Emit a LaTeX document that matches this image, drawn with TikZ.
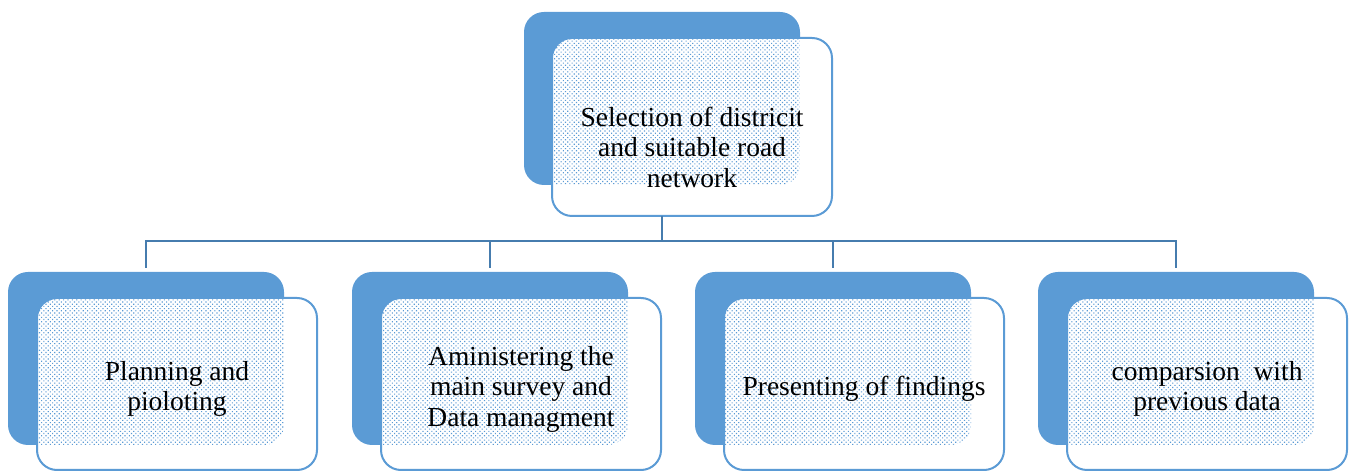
\documentclass[tikz,border=0pt]{standalone}
\usepackage{fontspec}
\setmainfont{Liberation Serif}
\usetikzlibrary{positioning,calc,patterns.meta}
\definecolor{boxblue}{RGB}{91,155,213}
\definecolor{linkblue}{RGB}{70,124,174}
\tikzset{
    backbox/.style={rectangle, rounded corners=20pt, fill=boxblue,
        minimum width=276pt, minimum height=173pt,
        inner sep=0pt, outer sep=0pt, anchor=north west},
    frontbox/.style={rectangle, rounded corners=20pt, fill=white,
        minimum width=280pt, minimum height=172pt,
        inner sep=0pt, outer sep=0pt},
    frontline/.style={draw=boxblue, line width=2pt, rounded corners=20pt},
    dotfill/.style={pattern={Dots[distance=3.1pt,angle=45,radius=0.8pt]}, pattern color=boxblue},
    boxtext/.style={align=center, font=\fontsize{27.5}{30.5}\selectfont},
    link/.style={draw=linkblue, line width=2.5pt, shorten >=4pt},
}

\begin{document}
\begin{tikzpicture}[x=1pt, y=1pt]
    \useasboundingbox (0,0) rectangle (1354,473);

    % top box
    \node[backbox] (back0) at (524,461) {};
    \node[frontbox, minimum height=178pt, below right=26pt and 28pt of back0.north west] (front0) {};
    \begin{scope}
        \clip[rounded corners=20pt] (back0.north west) rectangle (back0.south east);
        \fill[dotfill, rounded corners=20pt] (front0.north west) rectangle (front0.south east);
    \end{scope}
    \draw[frontline] (front0.north west) rectangle (front0.south east);
    \node[boxtext] (text0) at ($(front0.center)+(0,-20pt)$)
        {Selection of districit\\and suitable road\\network};

    % bottom row
    \foreach \n/\x/\txt in {1/8/{Planning and\\pioloting},
                            2/352/{Aministering the\\main survey and\\Data managment},
                            3/695/{Presenting of findings},
                            4/1038/{comparsion~ with\\previous data}} {
        \node[backbox] (back\n) at (\x,201) {};
        \node[frontbox, below right=26pt and 29pt of back\n.north west] (front\n) {};
        \begin{scope}
            \clip[rounded corners=20pt] (back\n.north west) rectangle (back\n.south east);
            \fill[dotfill, rounded corners=20pt] (front\n.north west) rectangle (front\n.south east);
        \end{scope}
        \draw[frontline] (front\n.north west) rectangle (front\n.south east);
        \node[boxtext] (text\n) at ($(front\n.center)+(0,-5pt)$) {\txt};
    }

    % connectors
    \coordinate (hub) at ($(back0.south |- front0.south)+(0,-25pt)$);
    \draw[link, shorten >=0pt] (back0.south |- front0.south) -- (hub);
    \foreach \n in {1,...,4}
        \draw[link] (hub) -| (back\n.north);
\end{tikzpicture}
\end{document}
